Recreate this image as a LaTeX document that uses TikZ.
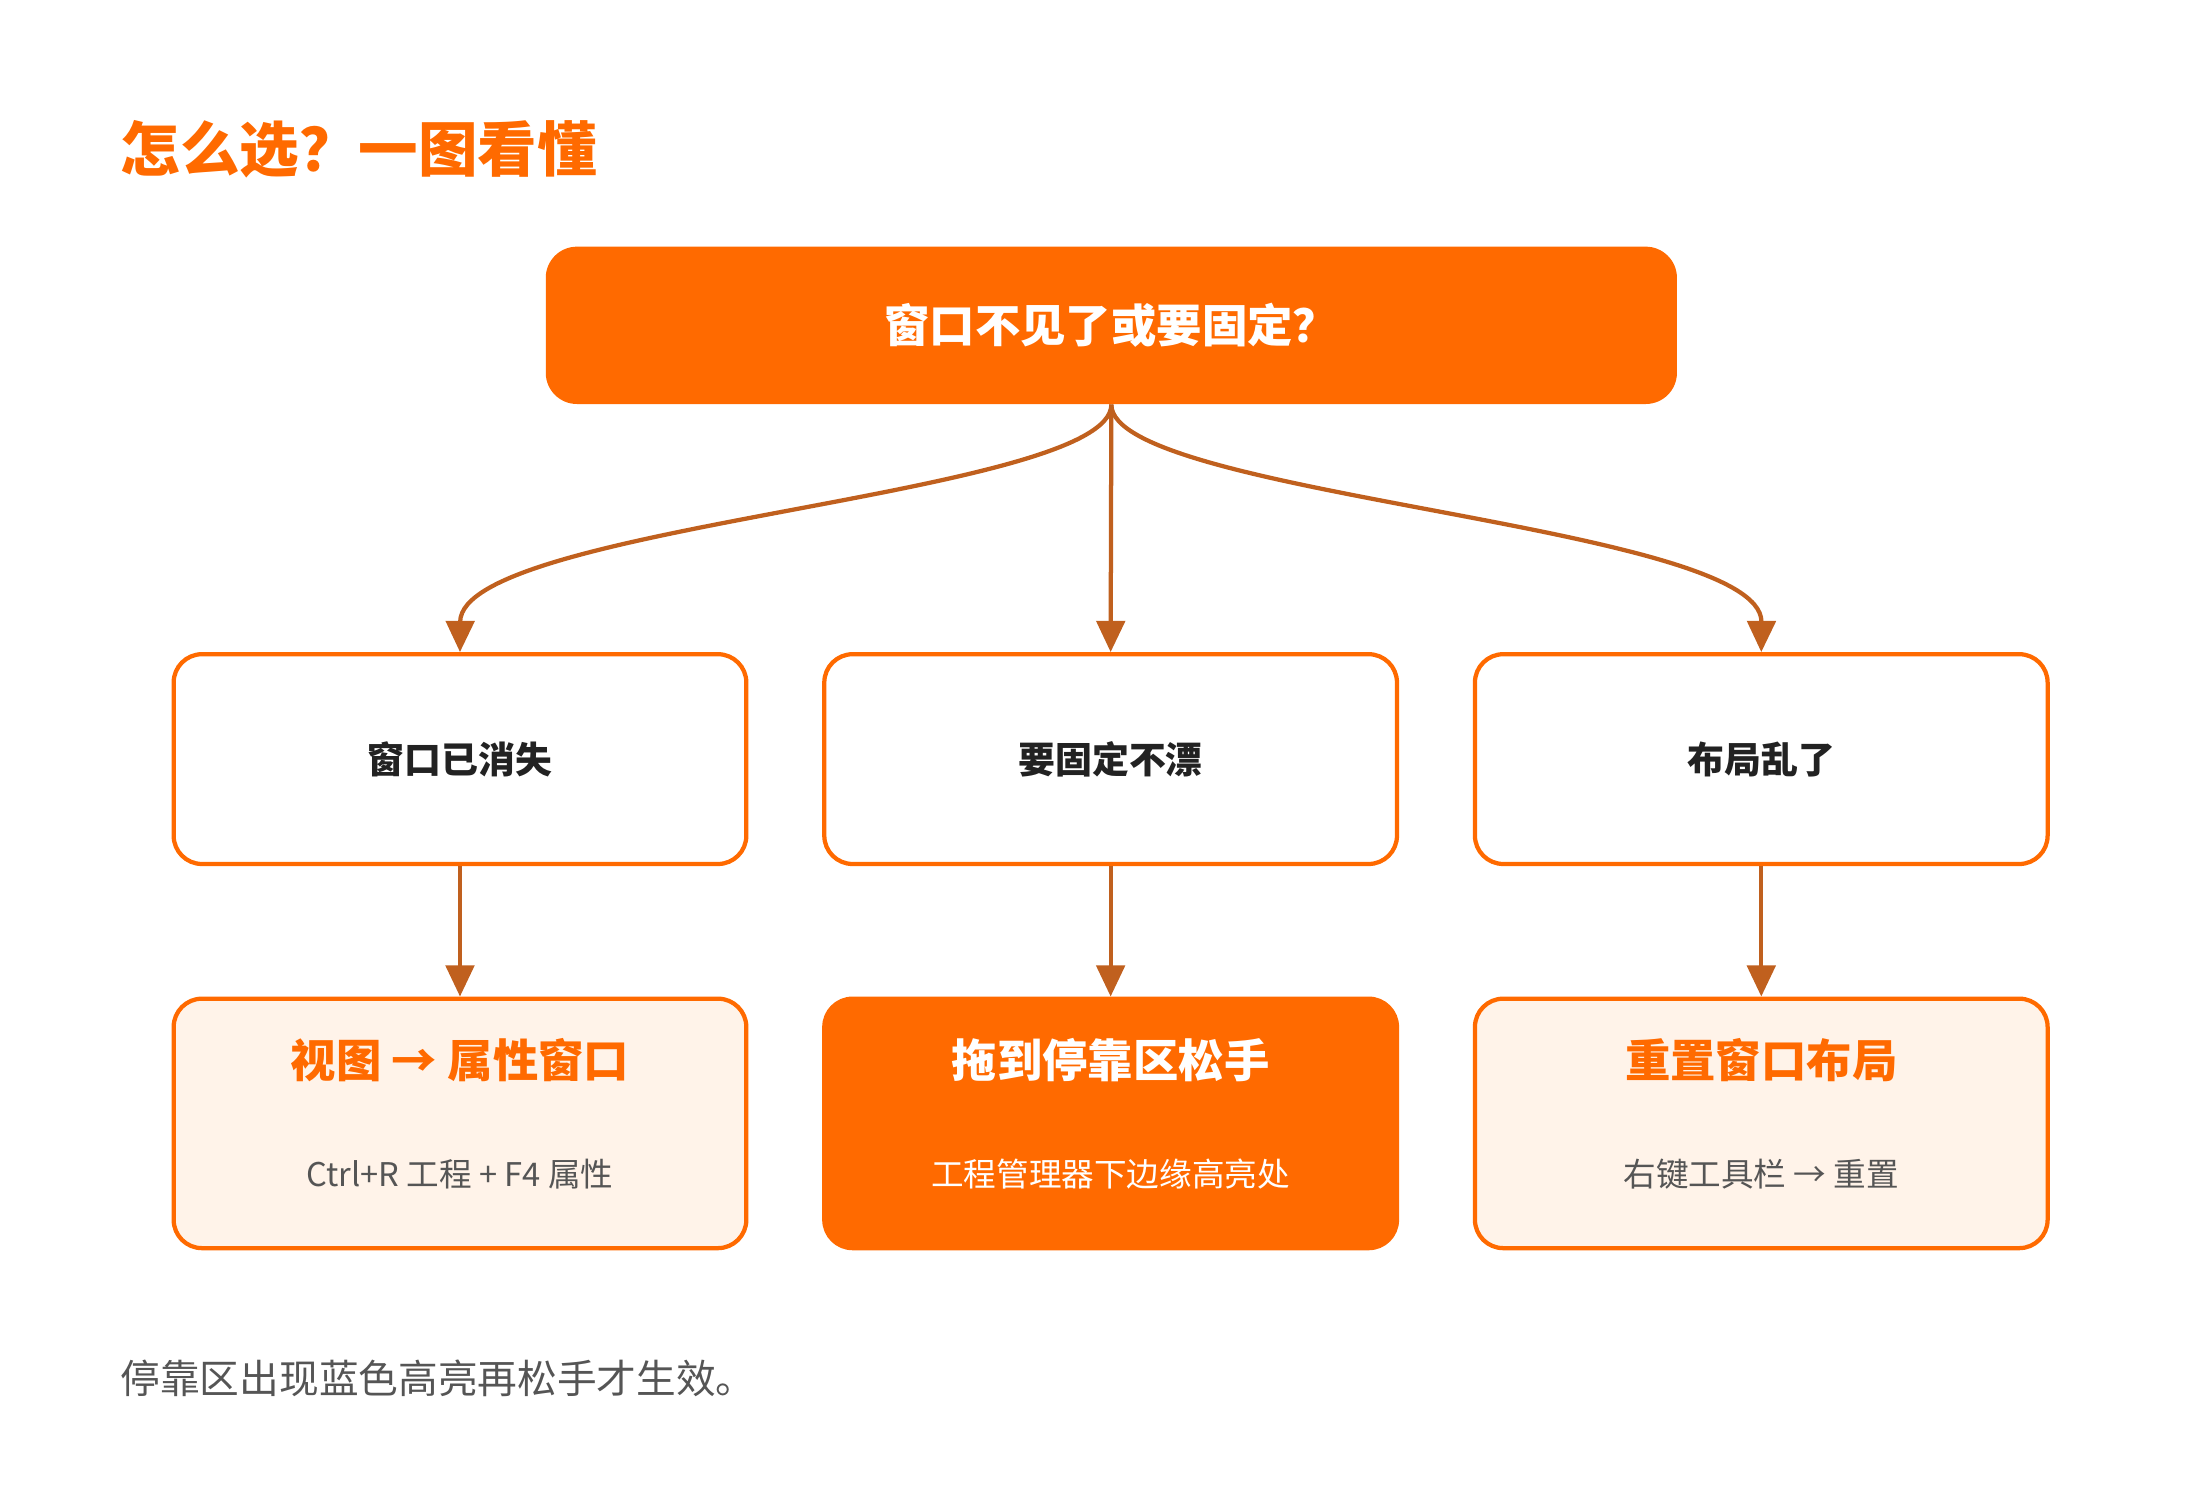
\documentclass[tikz,border=0pt]{standalone}
\usepackage{fontspec}
\setmainfont{Noto Sans CJK SC}
\usetikzlibrary{arrows.meta}
\definecolor{org}{HTML}{FF6A00}
\definecolor{arr}{HTML}{C0601E}
\definecolor{pale}{HTML}{FFF3E9}
\definecolor{txt}{HTML}{222222}
\definecolor{sub}{HTML}{555555}
\begin{document}
\begin{tikzpicture}[x=0.5pt,y=-0.5pt,
  box/.style={draw=org,line width=1.5pt,rounded corners=10pt,minimum width=202pt,inner sep=0pt},
  mid/.style={box,fill=white,minimum height=74pt,font=\fontsize{13}{15}\selectfont\bfseries,text=txt},
  bot/.style={box,fill=pale,minimum height=88pt},
  con/.style={draw=arr,line width=1.5pt,-{Triangle[width=10pt,length=11pt]}}]
\useasboundingbox (0,0) rectangle (1552,1050);
\node[anchor=west,text=org,font=\fontsize{21}{24}\selectfont\bfseries] (title) at (78,105) {怎么选？一图看懂};
\node[fill=org,rounded corners=11pt,minimum width=399pt,minimum height=55.5pt,text=white,font=\fontsize{16}{18}\selectfont\bfseries] (top) at (784,229.5) {窗口不见了或要固定？};
\node[mid] (m1) at (324.5,535.5) {窗口已消失};
\node[mid] (m2) at (783.5,535.5) {要固定不漂};
\node[mid] (m3) at (1242.5,535.5) {布局乱了};
\node[bot] (b1) at (324.5,792.5) {};
\node[bot,fill=org] (b2) at (783.5,792.5) {};
\node[bot] (b3) at (1242.5,792.5) {};
\node[text=org,font=\fontsize{16}{18}\selectfont\bfseries] (t1) at (324.5,748) {视图 → 属性窗口};
\node[text=white,font=\fontsize{16}{18}\selectfont\bfseries] (t2) at (783.5,748) {拖到停靠区松手};
\node[text=org,font=\fontsize{16}{18}\selectfont\bfseries] (t3) at (1242.5,748) {重置窗口布局};
\node[text=sub,font=\fontsize{11.5}{14}\selectfont] (s1) at (324.5,828) {Ctrl+R 工程 + F4 属性};
\node[text=white,font=\fontsize{11.5}{14}\selectfont] (s2) at (783.5,828) {工程管理器下边缘高亮处};
\node[text=sub,font=\fontsize{11.5}{14}\selectfont] (s3) at (1242.5,828) {右键工具栏 → 重置};
\node[anchor=west,text=sub,font=\fontsize{14}{16}\selectfont] (foot) at (78,972) {停靠区出现蓝色高亮再松手才生效。};
\draw[con] (top.south) .. controls (784,350) and (325,370) .. (m1.north);
\draw[con] (top.south) -- (m2.north);
\draw[con] (top.south) .. controls (784,350) and (1243,370) .. (m3.north);
\draw[con] (m1.south) -- (b1.north);
\draw[con] (m2.south) -- (b2.north);
\draw[con] (m3.south) -- (b3.north);
\end{tikzpicture}
\end{document}
